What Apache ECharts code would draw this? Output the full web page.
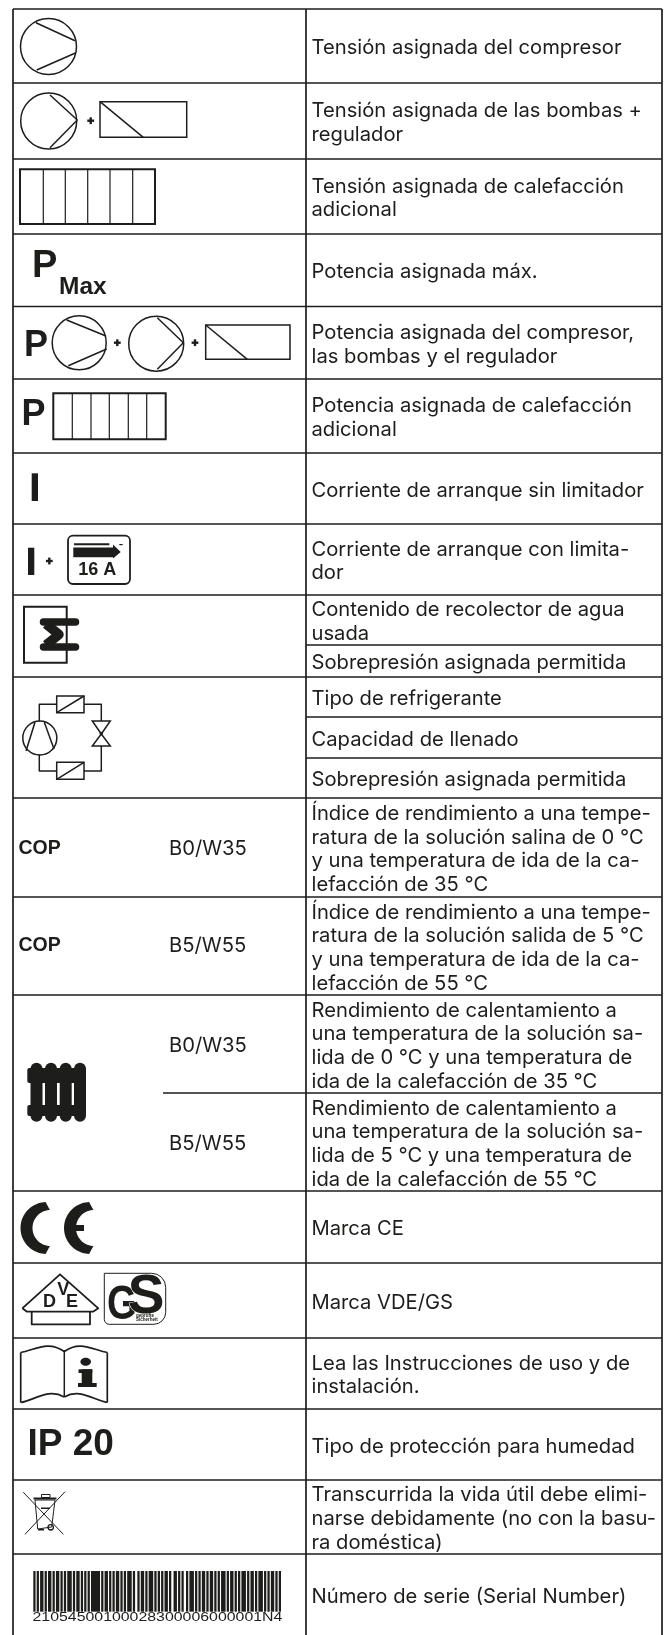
<!DOCTYPE html>
<html lang="es">
<head>
    <meta charset="utf-8">
    <title>Placa de características</title>
    <script src="https://cdn.jsdelivr.net/npm/echarts@6/dist/echarts.min.js"></script>
    <style>
        html, body { margin: 0; padding: 0; background: #fff; }
        #main { width: 670px; height: 1635px; }
    </style>
</head>
<body>
    <div id="main"></div>
    <script type="text/javascript">
        // text of the right column, one entry per cell, one string per line
        var descriptions = [
            ['Tensión asignada del compresor'],
            ['Tensión asignada de las bombas +', 'regulador'],
            ['Tensión asignada de calefacción', 'adicional'],
            ['Potencia asignada máx.'],
            ['Potencia asignada del compresor,', 'las bombas y el regulador'],
            ['Potencia asignada de calefacción', 'adicional'],
            ['Corriente de arranque sin limitador'],
            ['Corriente de arranque con limita-', 'dor'],
            ['Contenido de recolector de agua', 'usada'],
            ['Sobrepresión asignada permitida'],
            ['Tipo de refrigerante'],
            ['Capacidad de llenado'],
            ['Sobrepresión asignada permitida'],
            ['Índice de rendimiento a una tempe-', 'ratura de la solución salina de 0 °C', 'y una temperatura de ida de la ca-', 'lefacción de 35 °C'],
            ['Índice de rendimiento a una tempe-', 'ratura de la solución salida de 5 °C', 'y una temperatura de ida de la ca-', 'lefacción de 55 °C'],
            ['Rendimiento de calentamiento a', 'una temperatura de la solución sa-', 'lida de 0 °C y una temperatura de', 'ida de la calefacción de 35 °C'],
            ['Rendimiento de calentamiento a', 'una temperatura de la solución sa-', 'lida de 5 °C y una temperatura de', 'ida de la calefacción de 55 °C'],
            ['Marca CE'],
            ['Marca VDE/GS'],
            ['Lea las Instrucciones de uso y de', 'instalación.'],
            ['Tipo de protección para humedad'],
            ['Transcurrida la vida útil debe elimi-', 'narse debidamente (no con la basu-', 'ra doméstica)'],
            ['Número de serie (Serial Number)']
        ];
        var testConditions = ['B0/W35', 'B5/W55', 'B0/W35', 'B5/W55'];
        var serialNumber = '21054500100028300006000001N4';
        // bar, gap, bar, gap... in narrow units
        var barcodeUnits = [
            2,1,2,1,3,1,2,1,3,1,2,1,3,1,2,1,2,1,4,1,2,1,3,1,2,1,2,1,2,1,8,1,
            2,1,3,1,2,1,2,1,3,1,2,1,2,1,4,1,2,2,2,1,3,1,2,1,4,1,2,1,2,1,2,1,
            3,1,2,2,3,1,2,1,2,2,2,1,4,1,2,1,2,1,3,1,2,1,3,1,2,1,2,1,4,1,2,1,
            3,1,2,1,2,1,4,1,2,1,3,1,2,1,4,1,2,1,2,1,3,1,2,1,2
        ];

        // table layout: horizontal rules of the right column, top to bottom
        var colX = [13, 306, 662];
        var rowY = [9, 83, 159, 234, 306.5, 379, 453, 524, 595, 645, 677, 717, 758, 798, 897, 995, 1093, 1191, 1263, 1338, 1409, 1480, 1554, 1635];
        var rightOnlyY = [645, 717, 758];
        var ink = '#1d1d1b';
        var bodyFont = 'Inter';
        var symbolFont = '"Liberation Sans"';

        var ruleData = [];
        rowY.slice(0, -1).forEach(function (y) {
            var start = rightOnlyY.indexOf(y) >= 0 ? colX[1] : (y === 1093 ? 163 : colX[0]);
            ruleData.push([start, y, colX[2], y]);
        });
        colX.forEach(function (x) {
            ruleData.push([x, rowY[0], x, rowY[rowY.length - 1]]);
        });

        var textLines = [];
        var textData = [];
        descriptions.forEach(function (lines, i) {
            var middle = (rowY[i] + rowY[i + 1]) / 2 + 2;
            lines.forEach(function (line, k) {
                textLines.push(line);
                textData.push([311.5, middle + (k - (lines.length - 1) / 2) * 23.7, textLines.length - 1]);
            });
        });
        var conditionY = [849, 946, 1046, 1144];
        testConditions.forEach(function (t, i) {
            textLines.push(t);
            textData.push([169, conditionY[i], textLines.length - 1]);
        });

        // small drawing helpers for the symbols
        function line(x1, y1, x2, y2, w) {
            return { type: 'line', shape: { x1: x1, y1: y1, x2: x2, y2: y2 }, style: { stroke: ink, lineWidth: w || 1.5 }, silent: true };
        }
        function box(x1, y1, x2, y2, w, r) {
            return { type: 'rect', shape: { x: x1, y: y1, width: x2 - x1, height: y2 - y1, r: r || 0 }, style: { stroke: ink, fill: 'none', lineWidth: w || 1.5 }, silent: true };
        }
        function solid(x1, y1, x2, y2, r) {
            return { type: 'rect', shape: { x: x1, y: y1, width: x2 - x1, height: y2 - y1, r: r || 0 }, style: { fill: ink }, silent: true };
        }
        function ring(cx, cy, r, w) {
            return { type: 'circle', shape: { cx: cx, cy: cy, r: r }, style: { stroke: ink, fill: 'none', lineWidth: w || 1.5 }, silent: true };
        }
        function poly(points, filled, w) {
            return { type: 'polygon', shape: { points: points }, style: filled ? { fill: ink } : { stroke: ink, fill: 'none', lineWidth: w || 1.5 }, silent: true };
        }
        function path(points, w, cap) {
            return { type: 'polyline', shape: { points: points }, style: { stroke: ink, fill: 'none', lineWidth: w || 1.5, lineCap: cap || 'butt', lineJoin: 'round' }, silent: true };
        }
        function curve(x1, y1, c1x, c1y, c2x, c2y, x2, y2, w) {
            return { type: 'bezierCurve', shape: { x1: x1, y1: y1, cpx1: c1x, cpy1: c1y, cpx2: c2x, cpy2: c2y, x2: x2, y2: y2 }, style: { stroke: ink, fill: 'none', lineWidth: w || 1.5 }, silent: true };
        }
        function label(text, x, y, size, align, family, scaleX) {
            return {
                type: 'text', x: x, y: y, scaleX: scaleX || 1, silent: true,
                style: { text: text, fill: ink, align: align || 'left', verticalAlign: 'middle', font: 'bold ' + size + 'px ' + (family || symbolFont) }
            };
        }
        function plus(cx, cy) {
            return [solid(cx - 3.4, cy - 1.2, cx + 3.4, cy + 1.2), solid(cx - 1.2, cy - 3.4, cx + 1.2, cy + 3.4)];
        }
        function pump(cx, cy, r, ax1, ay1, ax2, ay2, bx1, by1, bx2, by2) {
            return [ring(cx, cy, r), line(ax1, ay1, ax2, ay2), line(bx1, by1, bx2, by2)];
        }
        function controller(x1, y1, x2, y2, footX) {
            return [box(x1, y1, x2, y2), line(x1, y1, footX, y2)];
        }
        function heater(x1, y1, x2, y2, dividers) {
            var out = [box(x1, y1, x2, y2, 2)];
            dividers.forEach(function (x) { out.push(line(x, y1, x, y2, 1.2)); });
            return out;
        }
        // C of the CE mark: outer circle minus an offset inner circle
        function crescent(cx, cy, r, off, r0) {
            var pts = [], a;
            for (a = 92; a <= 268; a += 4) {
                pts.push([cx + r * Math.cos(a * Math.PI / 180), cy + r * Math.sin(a * Math.PI / 180)]);
            }
            for (a = 268; a >= 92; a -= 4) {
                pts.push([cx + off + r0 * Math.cos(a * Math.PI / 180), cy + r0 * Math.sin(a * Math.PI / 180)]);
            }
            return poly(pts, true);
        }
        function radiator() {
            var out = [solid(27.3, 1068, 86, 1083, 2), solid(27.3, 1105, 86, 1116, 2)];
            [36.5, 51, 65.7, 80].forEach(function (x) {
                out.push(solid(x - 6, 1062.7, x + 6, 1121.7, 6));
            });
            return out;
        }
        function barcode(x1, x2, y1, y2) {
            var total = barcodeUnits.reduce(function (a, b) { return a + b; }, 0);
            var unit = (x2 - x1) / total;
            var out = [], pos = x1;
            barcodeUnits.forEach(function (u, i) {
                if (i % 2 === 0) {
                    out.push(solid(pos, y1, pos + u * unit, y2));
                }
                pos += u * unit;
            });
            return out;
        }
        var gsS = label('S', 146, 1297.5, 55, 'center');
        gsS.style.stroke = '#fff';
        gsS.style.lineWidth = 1;
        var serialText = label(serialNumber, 32.5, 1617.5, 12.5, 'left', symbolFont, 1.27);
        serialText.style.font = '12.5px ' + symbolFont;

        var symbols = [].concat(
            // rated voltage rows
            pump(48.5, 46.5, 28, 36, 22.7, 75, 40.7, 36.7, 70, 76, 52.7),
            pump(48.7, 121, 28, 50, 95, 77.3, 120, 50, 147.7, 77.3, 120),
            plus(90.7, 120.7),
            controller(100, 101.7, 186.7, 137.3, 143.3),
            heater(20, 169.3, 155, 224, [43.3, 65.3, 87.7, 110, 132.7]),
            // rated power rows
            [label('P', 32, 267, 38), label('Max', 59, 287, 24.5)],
            [label('P', 24, 346.5, 36)],
            pump(79.2, 342.8, 27, 66.7, 320, 106, 336, 68.3, 365.7, 106.7, 349),
            plus(117.3, 342.7),
            pump(156.2, 343.7, 27.5, 157.3, 317.7, 183.3, 342.7, 157.3, 369.3, 183.3, 342.7),
            plus(195, 342.7),
            controller(205.7, 325, 290, 359.3, 247.3),
            [label('P', 21.5, 415, 36)],
            heater(53.3, 393.3, 165.7, 439.3, [72.3, 91, 109.3, 128.3, 146.7]),
            // starting current rows
            [solid(31.7, 473.3, 38, 501), solid(28, 547.7, 34.3, 575)],
            plus(49.3, 561),
            [box(68, 535.7, 130, 584, 1.8, 5), solid(74, 543.3, 109.3, 545.3),
                poly([[73.3, 547.5], [113, 547.5], [113, 544.5], [120.7, 552], [113, 558.5], [113, 557.3], [73.3, 557.3]], true),
                solid(119.3, 544, 122.7, 545.2), label('16 A', 97.3, 570, 18, 'center')],
            // condensate collector
            [box(24, 606.7, 66.7, 662.7, 2),
                { type: 'line', shape: { x1: 43.5, y1: 622, x2: 75.5, y2: 622 }, style: { stroke: ink, lineWidth: 7.5, lineCap: 'round' }, silent: true },
                { type: 'line', shape: { x1: 43.5, y1: 647, x2: 75.5, y2: 647 }, style: { stroke: ink, lineWidth: 7.5, lineCap: 'round' }, silent: true },
                path([[46, 624], [59, 634.5], [46, 645]], 9.5)],
            // refrigerant circuit
            [ring(39.8, 738, 17), line(35, 722.3, 26, 751), line(44.3, 722.3, 54, 749),
                path([[39.3, 721.5], [39.3, 704.3], [56.7, 704.3]]), box(56.7, 696, 84, 712.7), line(56.7, 712.7, 84, 696),
                path([[84, 704.3], [101.3, 704.3], [101.3, 721]]),
                poly([[92.3, 721], [110.3, 721], [101.3, 734], [92.3, 746], [110.3, 746], [101.3, 734]], false),
                ring(101.3, 733.5, 1, 1.5),
                path([[101.3, 746], [101.3, 771], [84, 771]]), box(56.7, 762.3, 84, 779.3), line(56.7, 779.3, 84, 762.3),
                path([[56.7, 771], [39.3, 771], [39.3, 754.5]])],
            // COP rows
            [label('COP', 18.5, 849, 19.5), label('COP', 18.5, 946, 19.5)],
            radiator(),
            // marks
            [crescent(46.5, 1228, 26, 4, 18), crescent(90, 1228, 26, 4, 18), solid(68, 1225, 84, 1231)],
            [path([[22.3, 1308.3], [60, 1274.3], [98.3, 1308.3], [93, 1311.7], [27, 1311.7], [22.3, 1308.3]], 1.8),
                path([[31.7, 1311.7], [31.7, 1324.3], [90, 1324.3], [90, 1311.7]], 1.8),
                label('D', 49.5, 1302, 18, 'center'), label('V', 63.3, 1290, 18, 'center'), label('E', 72, 1302.3, 18, 'center')],
            [{ type: 'rect', shape: { x: 104.3, y: 1273.3, width: 61.4, height: 51, r: [0, 14, 12, 5] }, style: { stroke: ink, fill: 'none', lineWidth: 1 }, silent: true },
                label('G', 122, 1306, 48, 'center', symbolFont, 0.8), gsS,
                label('geprüfte', 136, 1315.5, 4.5), label('Sicherheit', 136, 1320, 4.5)],
            // manual
            [line(20.7, 1352.5, 20.7, 1402.5, 1.7), line(107.3, 1352.5, 107.3, 1402.5, 1.7), line(64.3, 1350, 64.3, 1397, 1.5),
                curve(20.7, 1352.5, 35, 1350, 48, 1340, 64.3, 1351.5, 1.7), curve(64.3, 1351.5, 80, 1340, 93, 1350, 107.3, 1352.5, 1.7),
                curve(20.7, 1402.5, 35, 1400, 48, 1388, 64.3, 1397, 1.7), curve(64.3, 1397, 80, 1388, 93, 1400, 107.3, 1402.5, 1.7),
                { type: 'ellipse', shape: { cx: 85.7, cy: 1361.7, rx: 5.3, ry: 4 }, style: { fill: ink }, silent: true },
                solid(78.5, 1369.3, 92.3, 1373), solid(81.7, 1369.3, 92.3, 1384), solid(78, 1383, 96.7, 1387)],
            // IP
            [label('IP 20', 27.5, 1445, 37)],
            // crossed-out bin
            [line(23.3, 1492.3, 63.3, 1534.3, 1), line(65, 1491.7, 25, 1534.3, 1),
                poly([[35, 1500], [55, 1500], [51.7, 1527], [37.7, 1529]], false, 1), solid(33.5, 1497.5, 56.5, 1499.5),
                box(41.5, 1494.5, 50, 1497.5, 1), solid(41, 1507.5, 50, 1509), ring(50.7, 1527.3, 2.7, 1.3), solid(38, 1529, 44, 1530.5)],
            barcode(33.3, 281, 1571, 1611.7),
            [serialText]
        );

        var myChart = echarts.init(document.getElementById('main'), null, { renderer: 'canvas' });
        myChart.setOption({
            animation: false,
            backgroundColor: '#fff',
            grid: { left: 0, right: 0, top: 0, bottom: 0 },
            xAxis: { type: 'value', min: 0, max: 670, show: false },
            yAxis: { type: 'value', min: 0, max: 1635, inverse: true, show: false },
            series: [
                {
                    type: 'custom',
                    silent: true,
                    clip: false,
                    data: ruleData,
                    encode: { x: [0, 2], y: [1, 3] },
                    renderItem: function (params, api) {
                        var a = api.coord([api.value(0), api.value(1)]);
                        var b = api.coord([api.value(2), api.value(3)]);
                        return {
                            type: 'line',
                            shape: { x1: a[0], y1: a[1], x2: b[0], y2: b[1] },
                            style: { stroke: ink, lineWidth: 1.7 }
                        };
                    }
                },
                {
                    type: 'custom',
                    silent: true,
                    clip: false,
                    data: textData,
                    encode: { x: 0, y: 1 },
                    renderItem: function (params, api) {
                        var p = api.coord([api.value(0), api.value(1)]);
                        return {
                            type: 'text',
                            x: p[0],
                            y: p[1],
                            style: {
                                text: textLines[api.value(2)],
                                fill: ink,
                                verticalAlign: 'middle',
                                font: '20.2px ' + bodyFont
                            }
                        };
                    }
                }
            ],
            graphic: { elements: symbols }
        });
    </script>
</body>
</html>
